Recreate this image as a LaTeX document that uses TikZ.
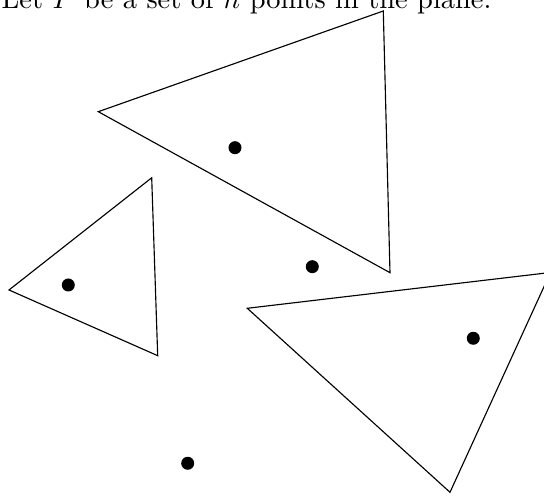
\documentclass[tikz,border=0pt]{standalone}
\usepackage{amsmath, amssymb}
\usepackage{tikz}
\usetikzlibrary{positioning}

\begin{document}
\begin{tikzpicture}[x=0.352pt, y=0.352pt,
    pointdot/.style={fill=black},
    regionedge/.style={draw=black, line width=0.4pt, line join=miter}]
      \useasboundingbox (0,0) rectangle (544,496);
      \node[anchor=base east, inner sep=0pt] (caption) at (492,487.7) {Let $P$ be a set of $n$ points in the plane.};
      % triangles
      \coordinate (ta1) at (98.3,384.3);  \coordinate (ta2) at (383.3,485);  \coordinate (ta3) at (390,223.3);
      \coordinate (tb1) at (151.7,318.2); \coordinate (tb2) at (9,206);      \coordinate (tb3) at (157.7,140.3);
      \coordinate (tc1) at (247.3,187.7); \coordinate (tc2) at (550.5,223.5); \coordinate (tc3) at (450,3.7);
      \draw[regionedge] (ta1) -- (ta2) -- (ta3) -- cycle;
      \draw[regionedge] (tb1) -- (tb2) -- (tb3) -- cycle;
      \draw[regionedge] (tc1) -- (tc2) -- (tc3) -- cycle;
      % points of P
      \foreach \px/\py in {235/348.3, 312.3/229.3, 68.3/211, 473.3/157.7, 187.7/32.7}{
        \fill[pointdot] (\px,\py) circle (6.5);
      }
    \end{tikzpicture}
\end{document}
